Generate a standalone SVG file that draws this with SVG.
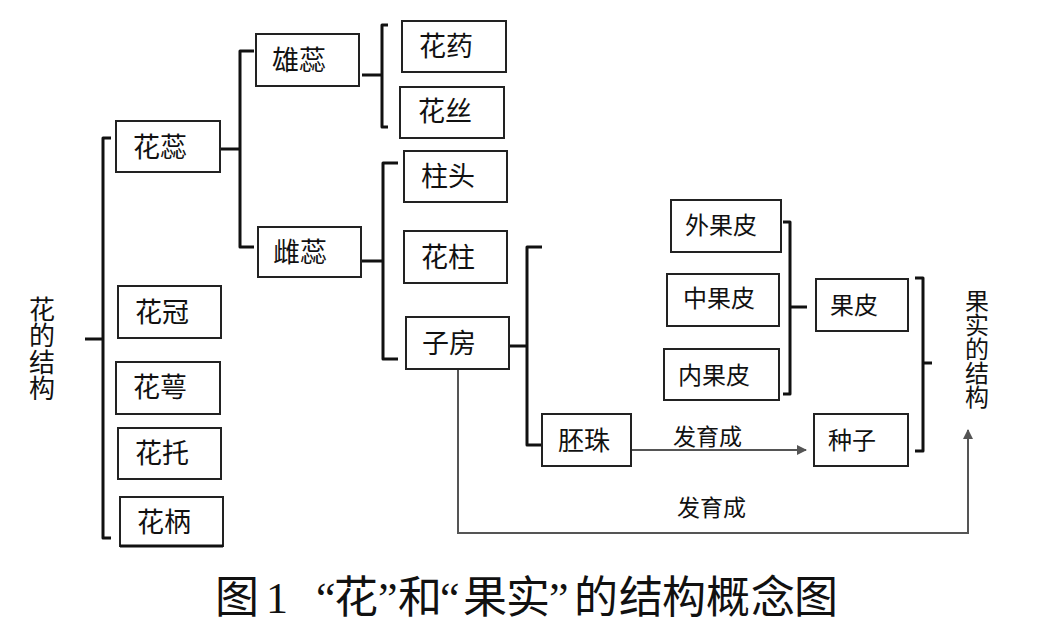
<svg xmlns="http://www.w3.org/2000/svg" width="1044" height="640" viewBox="0 0 1044 640">
<defs>
<style>
.box{fill:#fff;stroke:#222;stroke-width:2}
.t{font-family:"Noto Sans CJK SC","Noto Sans",sans-serif;fill:#111}
.big{font-size:27px}
.sm{font-size:24px}
.vt{writing-mode:vertical-rl;text-orientation:upright}
.br{fill:none;stroke:#111;stroke-width:3;stroke-linejoin:round}
.ar{fill:none;stroke:#555;stroke-width:2}
.title{font-family:"Liberation Serif","Noto Sans CJK SC",serif;font-size:44px;fill:#111}
</style>
<marker id="ah" viewBox="0 0 10 10" refX="9" refY="5" markerWidth="5" markerHeight="5" orient="auto-start-reverse">
<path d="M0,0 L10,5 L0,10 z" fill="#555"/>
</marker>
</defs>
<rect width="1044" height="640" fill="#fff"/>

<g id="connectors">
<path class="br" d="M85,339 H103 M111,138 H103 V538 H111"/>
<path class="br" d="M217,149 H240 M254,51 H240 V247 H254"/>
<path class="br" d="M362,75 H382 M388,25 H382 V127 H388"/>
<path class="br" d="M357,261 H383 M398,163 H383 V359 H398"/>
<path class="br" d="M509,346 H527 M542,247 H527 V445 H542"/>
<path class="br" d="M783,222 H790 V394 H783 M790,307 H807"/>
<path class="br" d="M915,278 H923 V451 H915 M923,363 H932"/>
<path class="ar" d="M631,450 H806" marker-end="url(#ah)"/>
<path class="ar" d="M458,369 V533 H968 V430" marker-end="url(#ah)"/>
</g>

<g id="n-huarui"><rect class="box" x="116" y="121" width="104" height="51"/><text class="t big" x="133" y="157">花蕊</text></g>
<g id="n-xiongrui"><rect class="box" x="256" y="34" width="103" height="52"/><text class="t big" x="272" y="70">雄蕊</text></g>
<g id="n-cirui"><rect class="box" x="258" y="227" width="103" height="50"/><text class="t big" x="273" y="262">雌蕊</text></g>
<g id="n-huayao"><rect class="box" x="402" y="21" width="104" height="51"/><text class="t big" x="419" y="56">花药</text></g>
<g id="n-huasi"><rect class="box" x="400" y="87" width="104" height="51"/><text class="t big" x="418" y="121">花丝</text></g>
<g id="n-zhutou"><rect class="box" x="404" y="151" width="103" height="51"/><text class="t big" x="421" y="186">柱头</text></g>
<g id="n-huazhu"><rect class="box" x="404" y="231" width="103" height="52"/><text class="t big" x="421" y="267">花柱</text></g>
<g id="n-zifang"><rect class="box" x="406" y="317" width="103" height="52"/><text class="t big" x="422" y="353">子房</text></g>
<g id="n-huaguan"><rect class="box" x="118" y="286" width="103" height="52"/><text class="t big" x="135" y="322">花冠</text></g>
<g id="n-huae"><rect class="box" x="116" y="362" width="104" height="52"/><text class="t big" x="133" y="397">花萼</text></g>
<g id="n-huatuo"><rect class="box" x="118" y="428" width="103" height="51"/><text class="t big" x="135" y="463">花托</text></g>
<g id="n-huabing"><rect class="box" x="120" y="497" width="103" height="49"/><line x1="120" y1="546" x2="223" y2="546" stroke="#111" stroke-width="3"/><text class="t big" x="137" y="532">花柄</text></g>
<g id="n-waiguopi"><rect class="box" x="671" y="200" width="110" height="52"/><text class="t sm" x="685" y="234">外果皮</text></g>
<g id="n-zhongguopi"><rect class="box" x="667" y="274" width="112" height="52"/><text class="t sm" x="683" y="307">中果皮</text></g>
<g id="n-neiguopi"><rect class="box" x="664" y="349" width="115" height="51"/><text class="t sm" x="678" y="384">内果皮</text></g>
<g id="n-guopi"><rect class="box" x="816" y="279" width="92" height="52"/><text class="t sm" x="830" y="314">果皮</text></g>
<g id="n-peizhu"><rect class="box" x="542" y="414" width="89" height="52"/><text class="t" style="font-size:26px" x="558" y="450">胚珠</text></g>
<g id="n-zhongzi"><rect class="box" x="814" y="414" width="94" height="52"/><text class="t sm" x="828" y="449">种子</text></g>

<g id="n-huadejiegou">
<text class="t vt" style="font-size:26px;letter-spacing:0.5px" x="42" y="296">花的结构</text>
</g>
<g id="n-guoshidejiegou">
<text class="t sm vt" x="977" y="289">果实的结构</text>
</g>
<g id="labels">
<text class="t" style="font-size:23px" x="673" y="445">发育成</text>
<text class="t" style="font-size:23px" x="677" y="516">发育成</text>
</g>
<g id="title">
<text class="title" x="215" y="613">图</text>
<text class="title" x="266" y="613">1</text>
<text class="title" x="316 334 378 398 440 463 506 549 574 619 662 706 751 794" y="613">“花”和“果实”的结构概念图</text>
</g>
</svg>
